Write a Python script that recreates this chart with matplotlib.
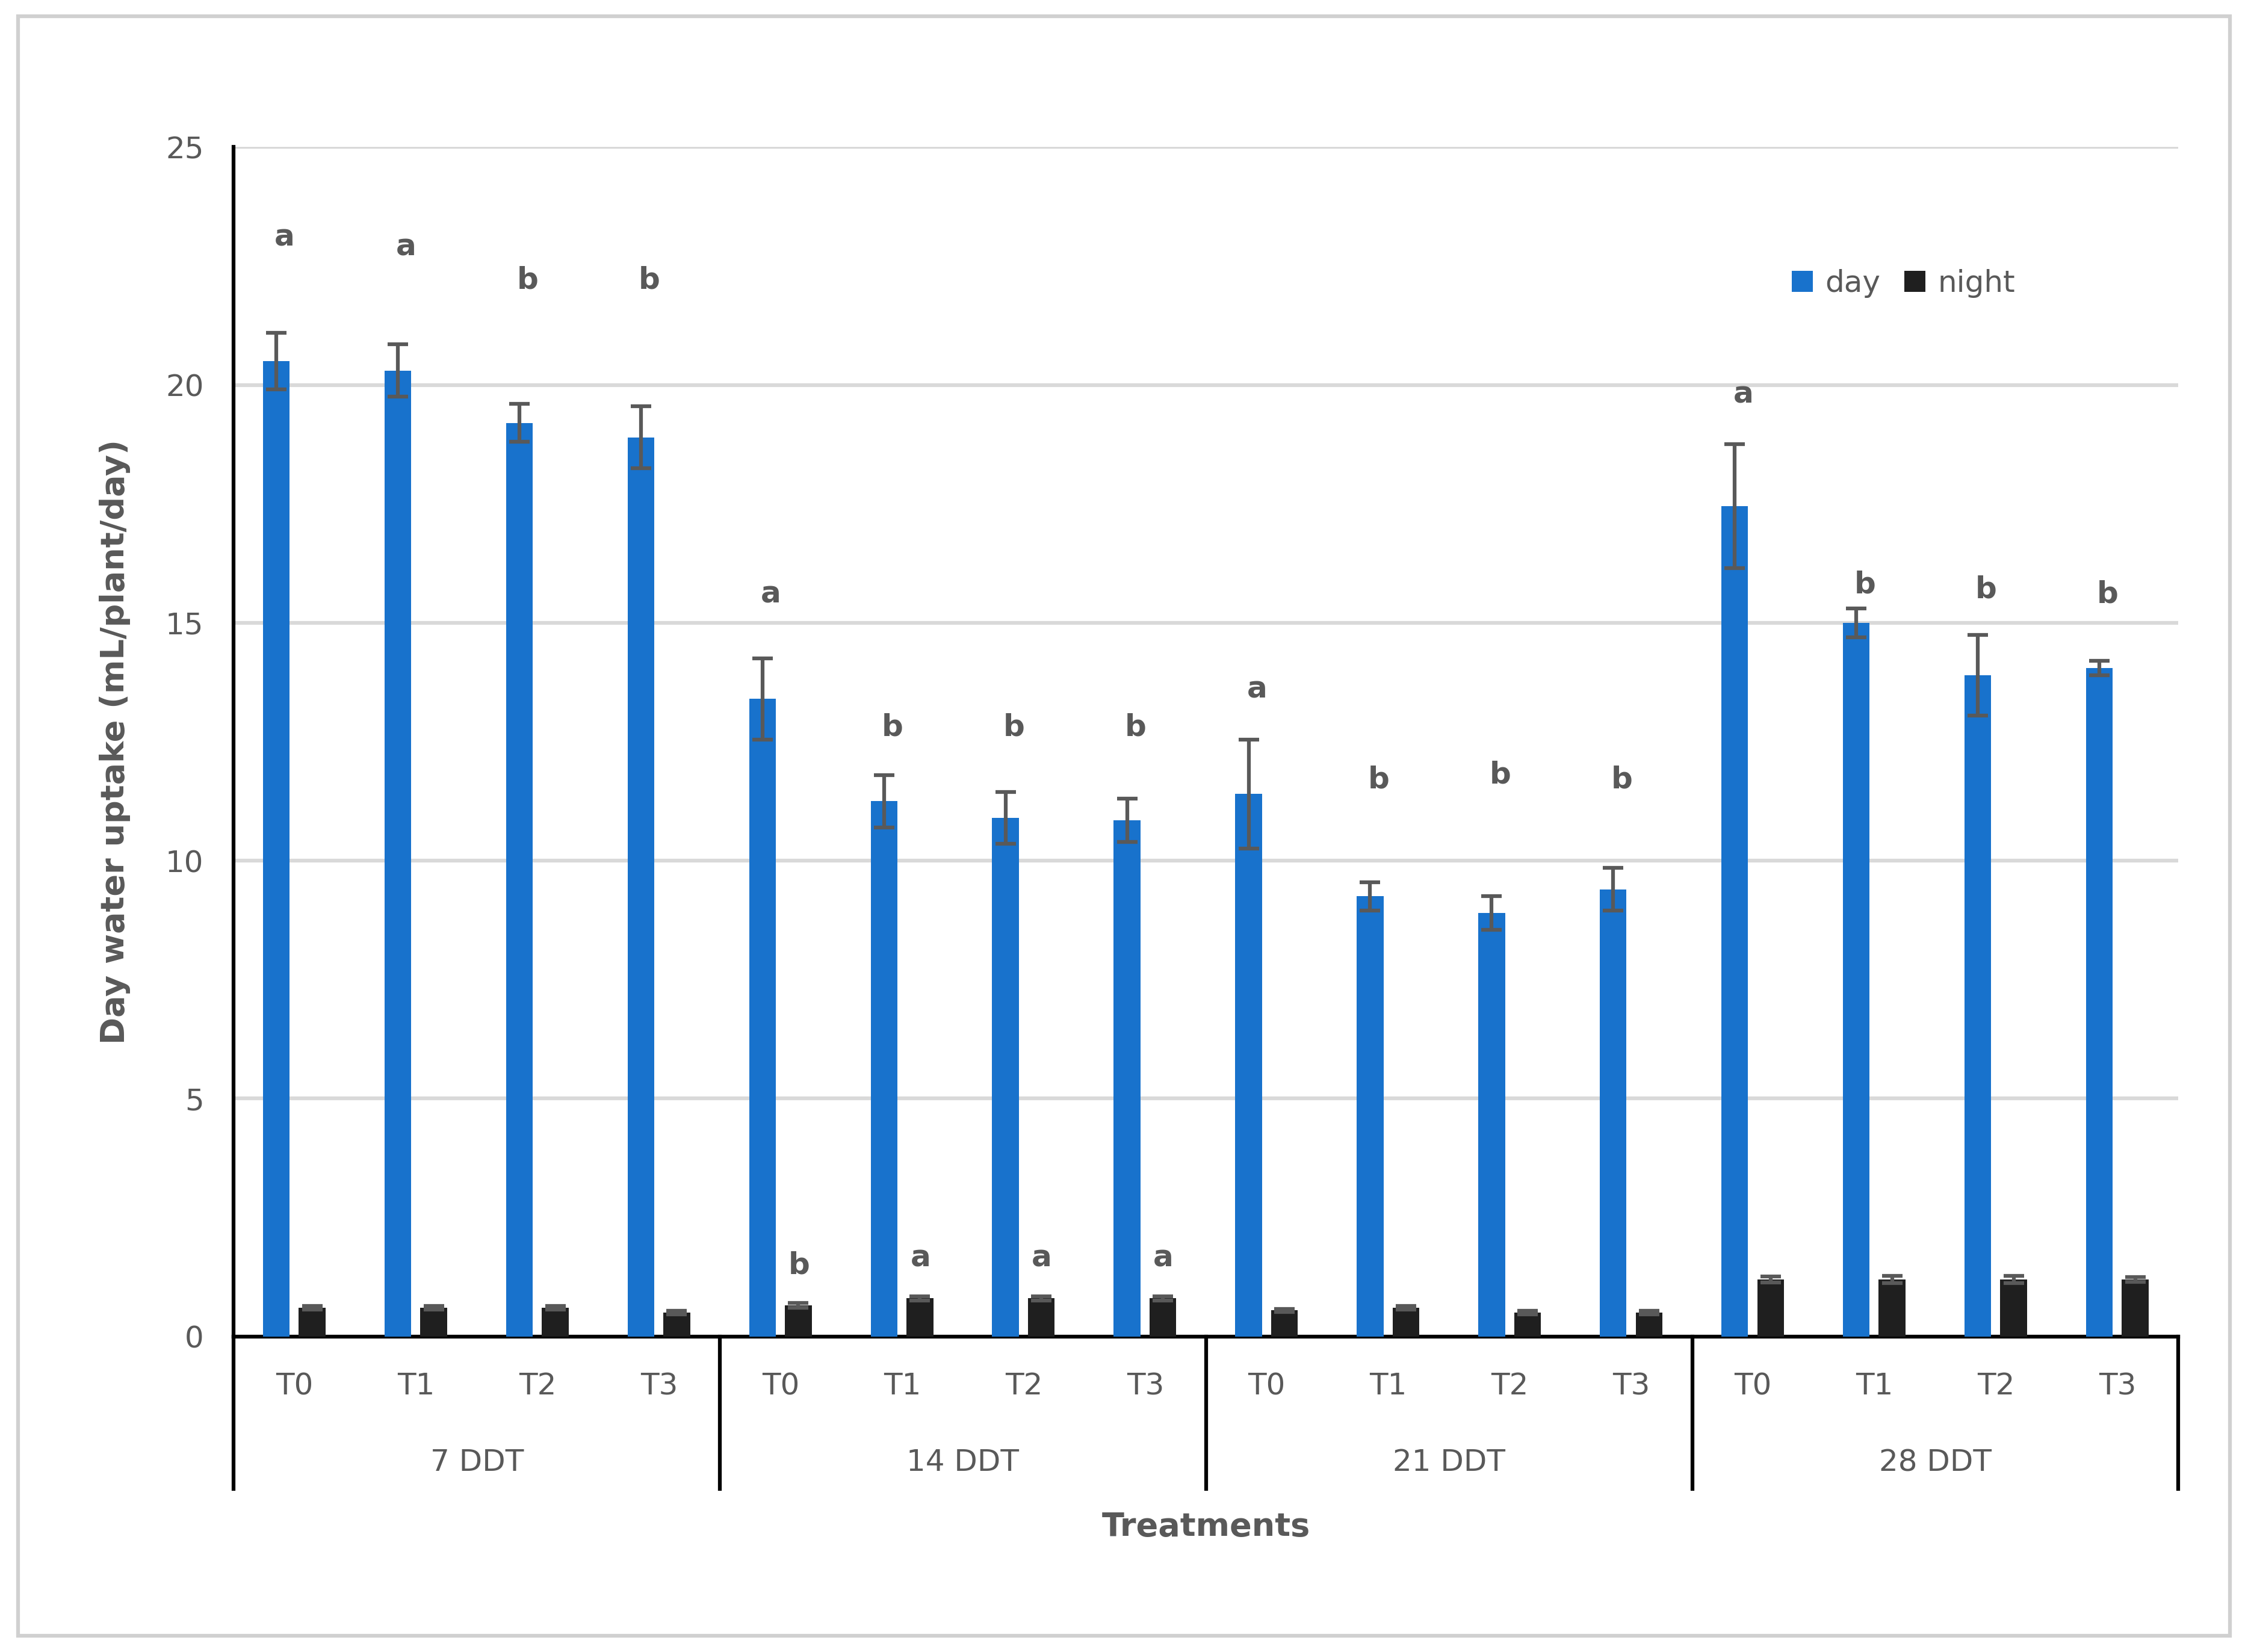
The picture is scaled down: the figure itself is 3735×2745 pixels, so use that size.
import matplotlib.pyplot as plt
import numpy as np

groups = ["7 DDT", "14 DDT", "21 DDT", "28 DDT"]
treatments = ["T0", "T1", "T2", "T3"]
day = [20.5, 20.3, 19.2, 18.9, 13.4, 11.25, 10.9, 10.85, 11.4, 9.25, 8.9, 9.4, 17.45, 15.0, 13.9, 14.05]
day_err = [0.6, 0.55, 0.4, 0.65, 0.85, 0.55, 0.55, 0.45, 1.15, 0.3, 0.35, 0.45, 1.3, 0.3, 0.85, 0.15]
night = [0.6, 0.6, 0.6, 0.5, 0.65, 0.8, 0.8, 0.8, 0.55, 0.6, 0.5, 0.5, 1.2, 1.2, 1.2, 1.2]
night_err = [0.04, 0.04, 0.04, 0.04, 0.05, 0.05, 0.05, 0.05, 0.03, 0.04, 0.04, 0.04, 0.06, 0.08, 0.08, 0.05]
day_letters = ["a", "a", "b", "b", "a", "b", "b", "b", "a", "b", "b", "b", "a", "b", "b", "b"]
day_letter_y = [23.1, 22.9, 22.2, 22.2, 15.6, 12.8, 12.8, 12.8, 13.6, 11.7, 11.8, 11.7, 19.8, 15.8, 15.7, 15.6]
night_letters = ["", "", "", "", "b", "a", "a", "a", "", "", "", "", "", "", "", ""]
night_letter_y = [0, 0, 0, 0, 1.5, 1.65, 1.65, 1.65, 0, 0, 0, 0, 0, 0, 0, 0]

fig = plt.figure(figsize=(12.45, 9.15), dpi=300)
ax = fig.add_axes([0.104, 0.191, 0.865, 0.72])
x = np.arange(16)
w = 0.22
grey = "#595959"
ax.bar(x - 0.15, day, w, color="#1872CC", label="day", zorder=3)
ax.bar(x + 0.145, night, w, color="#1f1f1f", label="night", zorder=3)
ax.errorbar(x - 0.15, day, yerr=day_err, fmt="none", ecolor=grey, elinewidth=1.5, capsize=4, capthick=1.5, zorder=4)
ax.errorbar(x + 0.145, night, yerr=night_err, fmt="none", ecolor=grey, elinewidth=1.5, capsize=4, capthick=1.5, zorder=4)
for i in range(16):
    ax.text(x[i] - 0.08, day_letter_y[i], day_letters[i], ha="center", va="center", fontsize=12, fontweight="bold", color=grey)
    if night_letters[i]:
        ax.text(x[i] + 0.15, night_letter_y[i], night_letters[i], ha="center", va="center", fontsize=12, fontweight="bold", color=grey)

ax.set_xlim(-0.5, 15.5)
ax.set_ylim(0, 25)
ax.set_yticks(range(0, 26, 5))
ax.yaxis.grid(True, color="#d9d9d9", linewidth=1.5, zorder=0)
ax.set_axisbelow(True)
for s in ["top", "right"]:
    ax.spines[s].set_visible(False)
ax.spines["left"].set_linewidth(1.5)
ax.spines["bottom"].set_linewidth(1.5)
ax.tick_params(axis="y", length=0, labelsize=12, labelcolor=grey, pad=12)
ax.set_xticks(x)
ax.set_xticklabels(treatments * 4)
ax.tick_params(axis="x", length=0, labelsize=12, labelcolor=grey, pad=14)
ax.set_ylabel("Day water uptake (mL/plant/day)", fontsize=13, fontweight="bold", color=grey, labelpad=14)

for g in range(5):
    xs = -0.5 + 4 * g
    ax.plot([xs, xs], [0, -3.2], color="black", lw=1.5, clip_on=False)
for g, name in enumerate(groups):
    ax.text(1.5 + 4 * g, -2.65, name, ha="center", va="center", fontsize=12, color=grey)
ax.text(7.5, -4.0, "Treatments", ha="center", va="center", fontsize=13, fontweight="bold", color=grey)

ax.legend(loc="upper right", bbox_to_anchor=(0.93, 0.92), frameon=False, fontsize=12, ncol=2,
          handlelength=0.7, handleheight=0.7, columnspacing=0.8, handletextpad=0.4, labelcolor=grey)

fig.patches.append(plt.Rectangle((0.008, 0.01), 0.984, 0.98, transform=fig.transFigure, fill=False, edgecolor="#d0d0d0", lw=1.5))
fig.savefig("out.png", dpi=300, facecolor="white")
